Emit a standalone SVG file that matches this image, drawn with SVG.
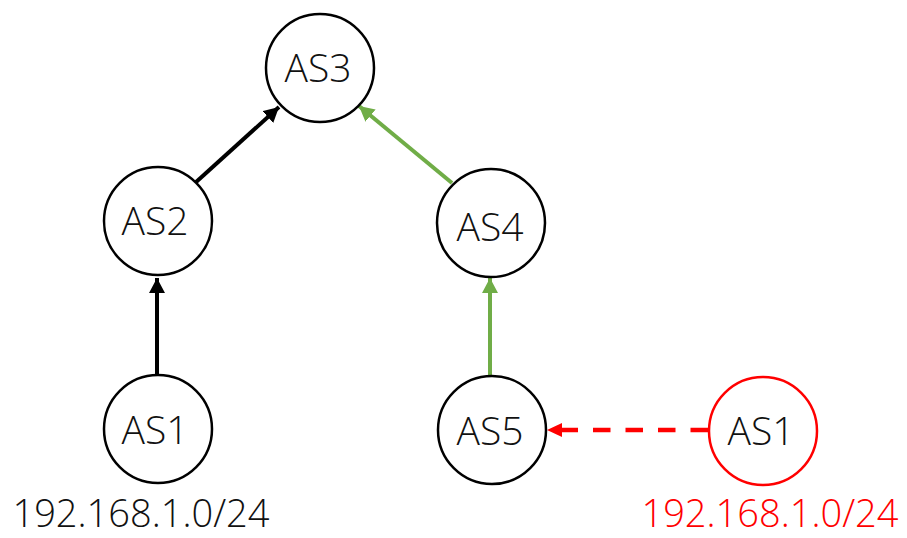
<svg xmlns="http://www.w3.org/2000/svg" width="907" height="538" viewBox="0 0 907 538">
<style>
  .node { fill: #ffffff; stroke: #000000; stroke-width: 2.5; }
  .node.red { stroke: #ff0000; }
  .lbl { font-family: "Open Sans", "Noto Sans", "DejaVu Sans", sans-serif; font-weight: 300; font-size: 39px; fill: #111111; text-anchor: middle; }
  .net { font-family: "Open Sans", "Noto Sans", "DejaVu Sans", sans-serif; font-weight: 300; font-size: 38px; text-anchor: middle; }
  .black { stroke: #000000; stroke-width: 4; fill: none; }
  .green { stroke: #70ad47; stroke-width: 4; fill: none; }
  .redline { stroke: #ff0000; stroke-width: 4.5; fill: none; stroke-dasharray: 17.5 15; }
</style>
<defs>
  <marker id="ahBlack" markerUnits="userSpaceOnUse" markerWidth="16" markerHeight="16" refX="15" refY="8" orient="auto">
    <path d="M0,0 L15,8 L0,16 Z" fill="#000000"/>
  </marker>
  <marker id="ahGreen" markerUnits="userSpaceOnUse" markerWidth="16" markerHeight="16" refX="15" refY="8" orient="auto">
    <path d="M0,0 L15,8 L0,16 Z" fill="#70ad47"/>
  </marker>
</defs>
<g id="connectors">
  <line class="black" x1="195" y1="183" x2="279" y2="107" marker-end="url(#ahBlack)"/>
  <line class="black" x1="157" y1="374" x2="157" y2="278" marker-end="url(#ahBlack)"/>
  <line class="green" x1="452" y1="183" x2="359" y2="106" marker-end="url(#ahGreen)"/>
  <line class="green" x1="490" y1="375" x2="490" y2="278" marker-end="url(#ahGreen)"/>
  <path class="redline" d="M708,430 L562,430"/>
  <path d="M547,430 L562,423 L562,437 Z" fill="#ff0000"/>
</g>
<g id="AS3">
  <circle class="node" cx="320" cy="68" r="54"/>
  <text class="lbl" x="318" y="82">AS3</text>
</g>
<g id="AS2">
  <circle class="node" cx="158" cy="221" r="54"/>
  <text class="lbl" x="155" y="235">AS2</text>
</g>
<g id="AS4">
  <circle class="node" cx="491" cy="223" r="54"/>
  <text class="lbl" x="490" y="241">AS4</text>
</g>
<g id="AS1-left">
  <circle class="node" cx="158" cy="429" r="54"/>
  <text class="lbl" x="155" y="444">AS1</text>
</g>
<g id="AS5">
  <circle class="node" cx="492" cy="430" r="54"/>
  <text class="lbl" x="490" y="445">AS5</text>
</g>
<g id="AS1-right">
  <circle class="node red" cx="763" cy="431" r="54"/>
  <text class="lbl" x="761" y="445">AS1</text>
</g>
<g id="labels">
  <text class="net" x="141" y="527" fill="#111111">192.168.1.0/24</text>
  <text class="net" x="770" y="527" fill="#ff0000">192.168.1.0/24</text>
</g>
</svg>
